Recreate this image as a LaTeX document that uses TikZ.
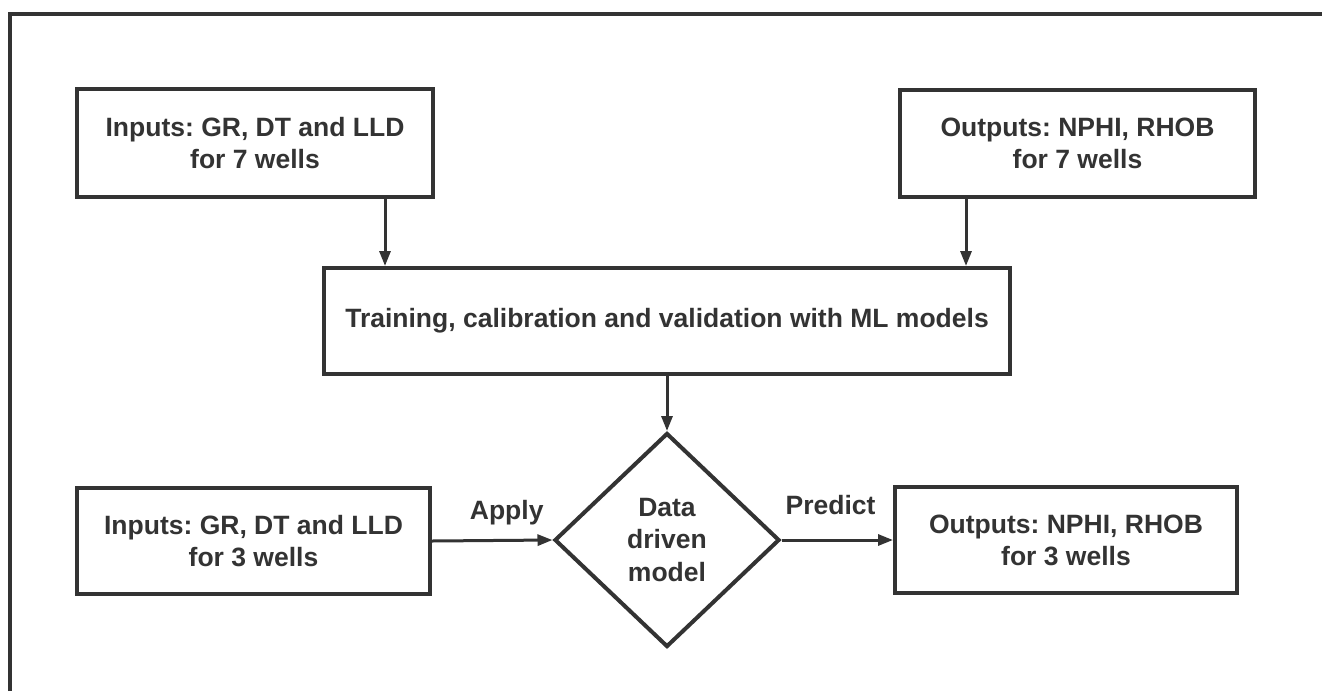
\documentclass[tikz,border=0pt]{standalone}
\usepackage{fontspec}
\setmainfont{Liberation Sans}
\usetikzlibrary{shapes.geometric,arrows.meta}
\definecolor{ink}{HTML}{333333}
\tikzset{
  px/.style={x=1pt,y=-1pt},
  txt/.style={text=ink,font=\fontsize{26.5}{32}\selectfont\bfseries\frenchspacing},
  box/.style={txt,draw=ink,line width=4pt,rectangle,inner sep=0pt,align=center},
  dmd/.style={draw=ink,line width=4pt,diamond,inner sep=0pt},
  lbl/.style={txt,inner sep=0pt},
  arr/.style={draw=ink,line width=3pt,-{Triangle[length=15pt,width=11pt]}},
  frameline/.style={draw=ink,line width=4.5pt}
}
\begin{document}
\begin{tikzpicture}[px]
\useasboundingbox (0,0) rectangle (1322,691);
\fill[white] (0,0) rectangle (1322,691);
\coordinate (fb) at (10,691);
\coordinate (fc) at (10,14);
\coordinate (fr) at (1322,14);
\draw[frameline] (fb) -- (fc) -- (fr);

\node[box,minimum width=356pt,minimum height=108pt] (A) at (255,143) {Inputs: GR, DT and LLD\\for 7 wells};
\node[box,minimum width=355pt,minimum height=107pt] (B) at (1077.5,143.5) {Outputs: NPHI, RHOB\\for 7 wells};
\node[box,minimum width=686pt,minimum height=106pt] (T) at (667,321) {Training, calibration and validation with ML models};
\node[box,minimum width=353pt,minimum height=106pt] (C) at (253.5,541) {Inputs: GR, DT and LLD\\for 3 wells};
\node[box,minimum width=342pt,minimum height=106pt] (D) at (1066,540) {Outputs: NPHI, RHOB\\for 3 wells};
\node[dmd,minimum width=225pt,minimum height=214pt] (M) at (667,540) {};
\node[lbl,align=center,font=\fontsize{26.5}{32.5}\selectfont\bfseries] (Mt) at (M.center) {Data\\driven\\model};

\draw[arr] ([xshift=130pt]A.south) -- ([xshift=130pt]A.south |- T.north);
\draw[arr] ([xshift=-111.5pt]B.south) -- ([xshift=-111.5pt]B.south |- T.north);
\draw[arr] (T.south) -- (M.north);
\draw[arr] (C.east) -- (M.west) node[lbl,pos=0.62,anchor=base,yshift=21pt] (ap) {Apply};
\draw[arr] (M.east) -- (D.west) node[lbl,pos=0.44,anchor=base,yshift=26pt] (pr) {Predict};
\end{tikzpicture}
\end{document}
